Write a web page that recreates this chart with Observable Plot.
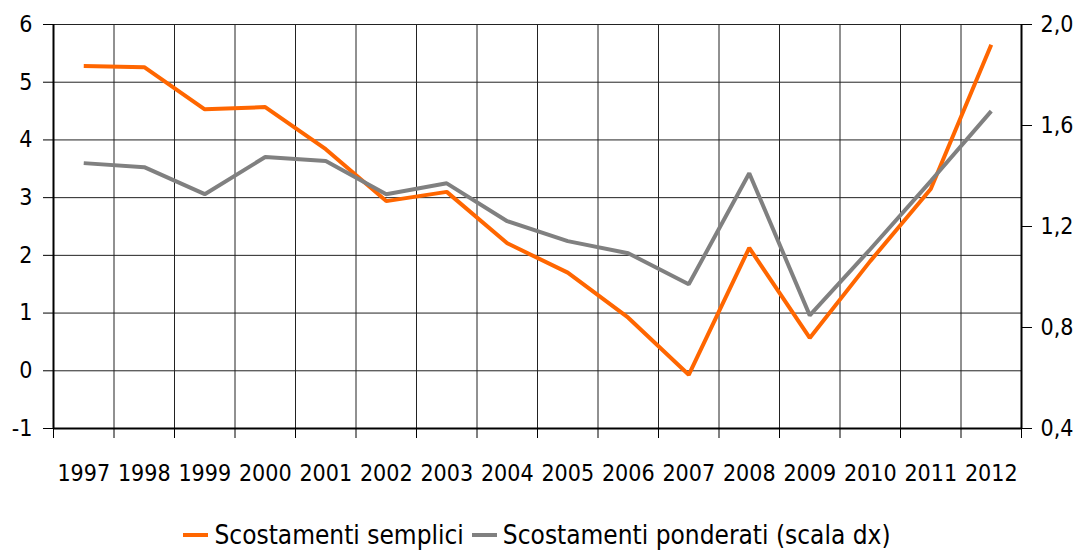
<!DOCTYPE html>
<html>
<head>
<meta charset="utf-8">
<script src="https://cdn.jsdelivr.net/npm/d3@7"></script>
<script src="https://cdn.jsdelivr.net/npm/@observablehq/plot@0.6"></script>
<style>
  html, body { margin: 0; padding: 0; background: #fff; }
  body { width: 1082px; height: 551px; overflow: hidden; font-family: "DejaVu Sans Condensed", "DejaVu Sans", sans-serif; }
  #legend { margin-left: 53px; width: 968px; height: 51px; display: flex; justify-content: center; align-items: flex-start; padding-top: 21px; box-sizing: border-box; font-size: 26px; line-height: 28px; color: #000; }
  .item { display: flex; align-items: center; }
  .sw { width: 25px; height: 4px; margin-right: 6px; }
  .item + .item { margin-left: 8px; }
</style>
</head>
<body>
<div id="chart"></div>
<div id="legend"></div>
<script>
const years = [1997, 1998, 1999, 2000, 2001, 2002, 2003, 2004, 2005, 2006, 2007, 2008, 2009, 2010, 2011, 2012];
const semplici = [5.28, 5.26, 4.53, 4.57, 3.84, 2.94, 3.10, 2.21, 1.70, 0.92, -0.07, 2.13, 0.57, 1.90, 3.15, 5.65];
const ponderati = [1.451, 1.435, 1.328, 1.475, 1.459, 1.328, 1.371, 1.221, 1.142, 1.094, 0.971, 1.411, 0.848, 1.11, 1.38, 1.657];
const leftTicks = [-1, 0, 1, 2, 3, 4, 5, 6];
const rightTicks = [0.4, 0.8, 1.2, 1.6, 2.0];
const seriesNames = ["Scostamenti semplici", "Scostamenti ponderati (scala dx)"];
const colors = ["#FF6600", "#808080"];

const leftMin = -1, leftMax = 6, rightMin = 0.4, rightMax = 2.0;
const toLeft = v => leftMin + (v - rightMin) / (rightMax - rightMin) * (leftMax - leftMin);
const toRight = v => rightMin + (v - leftMin) / (leftMax - leftMin) * (rightMax - rightMin);

const rows = years.map((y, i) => ({year: y, semplici: semplici[i], ponderati: ponderati[i]}));
const bounds = d3.range(years.length + 1).map(i => years[0] - 0.5 + i);
const xMin = bounds[0], xMax = bounds[bounds.length - 1];
const fmtComma = v => d3.format(".1f")(v).replace(".", ",");

const plot = Plot.plot({
  width: 1082,
  height: 500,
  marginLeft: 53,
  marginRight: 61,
  marginTop: 24,
  marginBottom: 72,
  style: {fontFamily: "'DejaVu Sans Condensed', 'DejaVu Sans', sans-serif", fontSize: "23px", color: "#000", background: "#fff"},
  x: {type: "linear", domain: [xMin, xMax], label: null},
  y: {domain: [leftMin, leftMax], label: null},
  marks: [
    Plot.gridY(leftTicks, {stroke: "#222", strokeOpacity: 1, strokeWidth: 1}),
    Plot.gridX(bounds, {stroke: "#222", strokeOpacity: 1, strokeWidth: 1}),
    Plot.axisY(leftTicks, {anchor: "left", label: null, tickSize: 10, tickPadding: 11, tickFormat: d => String(d), stroke: "#000", fontSize: 23}),
    Plot.axisY(rightTicks.map(toLeft), {anchor: "right", label: null, tickSize: 10, tickPadding: 9, tickFormat: d => fmtComma(toRight(d)), stroke: "#000", fontSize: 23}),
    Plot.axisX(bounds, {anchor: "bottom", label: null, tickSize: 10, tickFormat: () => "", stroke: "#000"}),
    Plot.axisX(years, {anchor: "bottom", label: null, tickSize: 0, tickPadding: 36, tickFormat: d => String(d), fontSize: 23}),
    Plot.ruleY([leftMin], {stroke: "#000", strokeWidth: 2}),
    Plot.ruleX([xMin], {stroke: "#000", strokeWidth: 2}),
    Plot.ruleX([xMax], {stroke: "#000", strokeWidth: 2}),
    Plot.line(rows, {x: "year", y: "semplici", stroke: colors[0], strokeWidth: 4, strokeLinejoin: "miter", strokeLinecap: "butt"}),
    Plot.line(rows, {x: "year", y: d => toLeft(d.ponderati), stroke: colors[1], strokeWidth: 4, strokeLinejoin: "miter", strokeLinecap: "butt"})
  ]
});
document.getElementById("chart").appendChild(plot);

const legend = document.getElementById("legend");
seriesNames.forEach((name, i) => {
  const item = document.createElement("div");
  item.className = "item";
  const sw = document.createElement("span");
  sw.className = "sw";
  sw.style.background = colors[i];
  const tx = document.createElement("span");
  tx.textContent = name;
  item.appendChild(sw);
  item.appendChild(tx);
  legend.appendChild(item);
});
</script>
</body>
</html>
